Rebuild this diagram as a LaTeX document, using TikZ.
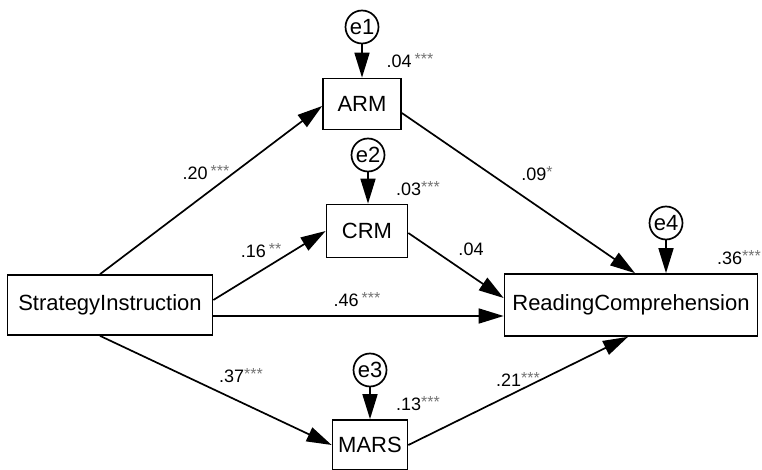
\documentclass[tikz,border=0pt]{standalone}
\usepackage{fontspec}
\setmainfont{Liberation Sans}
\usetikzlibrary{arrows.meta,positioning}
\newcommand{\sigstars}[1]{\textcolor{black!55}{\fontsize{16}{16}\selectfont\raisebox{3pt}{#1}}}
\tikzset{
  var/.style={draw,line width=1.7pt,inner sep=0pt,font=\fontsize{22}{26}\selectfont},
  err/.style={draw,circle,line width=1.7pt,minimum size=33pt,inner sep=0pt,font=\fontsize{22}{26}\selectfont},
  coef/.style={inner sep=0pt,font=\fontsize{18}{20}\selectfont},
  reg/.style={line width=1.7pt,->}
}
\begin{document}
\begin{tikzpicture}[x=1pt,y=-1pt,>={Triangle[length=25pt,width=15pt]}]
        \useasboundingbox (0,0) rectangle (762,470);
        % observed variables
        \node[var,minimum width=205pt,minimum height=60pt] (SI) at (110,305) {StrategyInstruction};
        \node[var,minimum width=78pt,minimum height=51pt] (ARM) at (362,104) {ARM};
        \node[var,minimum width=81pt,minimum height=53pt] (CRM) at (367,231) {CRM};
        \node[var,minimum width=75pt,minimum height=50pt] (MARS) at (370,445) {MARS};
        \node[var,minimum width=253pt,minimum height=62pt] (RC) at (631,305) {ReadingComprehension};
        % error terms
        \node[err] (e1) at (362,27) {e1};
        \node[err] (e2) at (368,155) {e2};
        \node[err] (e3) at (370,370) {e3};
        \node[err] (e4) at (666,223) {e4};
        \draw[reg] (e1)--(ARM);
        \draw[reg] (e2)--(e2 |- CRM.north);
        \draw[reg] (e3)--(e3 |- MARS.north);
        \draw[reg] (e4)--(e4 |- RC.north);
        % paths
        \draw[reg] ([xshift=-10pt]SI.north)--([yshift=-2pt]ARM.west);
        \draw[reg] ([yshift=5pt]SI.east)--(CRM.west);
        \draw[reg] ([yshift=-11pt]SI.east)--([yshift=-11pt]RC.west);
        \draw[reg] ([xshift=-10pt]SI.south)--(MARS.west);
        \draw[reg] ([yshift=-9pt]ARM.east)--([xshift=4pt]RC.north);
        \draw[reg] ([yshift=-2pt]CRM.east)--([yshift=7pt]RC.west);
        \draw[reg] (MARS.east)--([xshift=-3pt]RC.south);
        % coefficients
        \node[coef] (r1) at (410,61) {.04\,\sigstars{***}};
        \node[coef] (r2) at (418,189) {.03\sigstars{***}};
        \node[coef] (r3) at (418,404) {.13\sigstars{***}};
        \node[coef] (r4) at (739,258) {.36\sigstars{***}};
        \node[coef] (b1) at (206,173) {.20\,\sigstars{***}};
        \node[coef] (b2) at (261,251) {.16\,\sigstars{**}};
        \node[coef] (b3) at (357,300) {.46\,\sigstars{***}};
        \node[coef] (b4) at (241,376) {.37\sigstars{***}};
        \node[coef] (b5) at (537,174) {.09\sigstars{*}};
        \node[coef] (b6) at (471,249) {.04};
        \node[coef] (b7) at (518,379) {.21\sigstars{***}};
\end{tikzpicture}
\end{document}
